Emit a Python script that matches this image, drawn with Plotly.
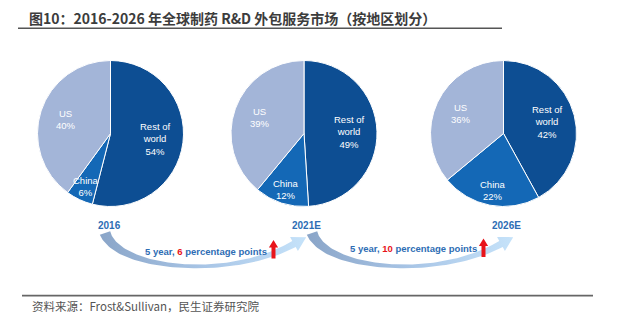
import math
import numpy as np
import plotly.graph_objects as go

W, H = 618, 325

# ---- data -------------------------------------------------------------
years = ["2016", "2021E", "2026E"]
regions = ["Rest of world", "China", "US"]
region_text = ["Rest of<br>world", "China", "US"]
share_2016 = [54, 6, 40]
share_2021 = [49, 12, 39]
share_2026 = [42, 22, 36]
shares = [share_2016, share_2021, share_2026]
span_years = [5, 5]
china_gain_points = [6, 10]

# ---- styling / layout constants ----------------------------------------
slice_colors = ["#0D4E93", "#1468B6", "#A3B5D8"]
label_radius = [0.62, 0.80, 0.64]          # radial position of in-slice labels
pie_centers = [(110.5, 133.5), (304.0, 133.5), (503.5, 133.5)]
pie_r = 73
year_label_x = [109.5, 306.5, 506.5]
arrow_offsets = [0, 207]                    # horizontal shift of each curved arrow
BLUE_TXT = "#2E6DB4"
RED = "#E8141B"
SANS = "Liberation Sans, Arial, sans-serif"
CJK = "Noto Sans CJK SC, sans-serif"

fig = go.Figure()

# ---- pies --------------------------------------------------------------
annotations = []
for (cx, cy), vals in zip(pie_centers, shares):
    fig.add_trace(go.Pie(
        values=vals, labels=regions, sort=False, direction="clockwise",
        rotation=0, textinfo="none", hoverinfo="skip", showlegend=False,
        marker=dict(colors=slice_colors, line=dict(color="white", width=1)),
        domain=dict(x=[(cx - pie_r) / W, (cx + pie_r) / W],
                    y=[(H - cy - pie_r) / H, (H - cy + pie_r) / H]),
    ))
    total = float(sum(vals))
    cum = 0.0
    for i, v in enumerate(vals):
        theta = (cum + v / 2.0) / total * 2 * math.pi
        cum += v
        rr = label_radius[i] * pie_r
        annotations.append(dict(
            x=cx + math.sin(theta) * rr, y=cy - math.cos(theta) * rr,
            xref="x", yref="y", showarrow=False,
            text=f"{region_text[i]}<br>{v}%",
            font=dict(family=SANS, size=9.5, color="white"),
            xanchor="center", yanchor="middle",
        ))

# ---- year labels -------------------------------------------------------
for yx, yr in zip(year_label_x, years):
    annotations.append(dict(
        x=yx, y=225, xref="x", yref="y", showarrow=False,
        text=f"<b>{yr}</b>", font=dict(family=SANS, size=10, color=BLUE_TXT),
        xanchor="center", yanchor="middle"))


# ---- curved arrows between the years -----------------------------------
def bezier(p, t):
    t = t[:, None]
    return ((1 - t) ** 3 * p[0] + 3 * (1 - t) ** 2 * t * p[1]
            + 3 * (1 - t) * t ** 2 * p[2] + t ** 3 * p[3])


def bezier_d(p, t):
    t = t[:, None]
    return (3 * (1 - t) ** 2 * (p[1] - p[0]) + 6 * (1 - t) * t * (p[2] - p[1])
            + 3 * t ** 2 * (p[3] - p[2]))


def curved_arrow(dx):
    p = np.array([[105, 233], [118, 270], [230, 280], [294, 244]], float)
    p[:, 0] += dx
    t = np.linspace(0, 1, 80)
    c = bezier(p, t)
    d = bezier_d(p, t)
    d /= np.linalg.norm(d, axis=1)[:, None]
    n = np.stack([-d[:, 1], d[:, 0]], axis=1)
    hw = 5.5 - 12 * t + 10 * t ** 2
    upper = c - n * hw[:, None]
    lower = c + n * hw[:, None]
    end, tang, nn = c[-1], d[-1], n[-1]
    head = [end - nn * 8, end + tang * 14, end + nn * 8]
    pts = np.vstack([upper, head, lower[::-1], upper[:1]])
    return pts, p[0, 0] - 5, end[0] + 14


for k, dx in enumerate(arrow_offsets):
    pts, xs, xe = curved_arrow(dx)
    fig.add_trace(go.Scatter(
        x=pts[:, 0], y=pts[:, 1], mode="lines", fill="toself",
        line=dict(width=0), hoverinfo="skip", showlegend=False,
        fillgradient=dict(type="horizontal", start=xs, stop=xe,
                          colorscale=[[0, "#8AA5C8"], [0.5, "#A8C5E6"],
                                      [1, "#C6E3FA"]]),
    ))

# ---- growth captions and red up arrows ---------------------------------
caption_pos = [(206, 251), (413, 248.5)]
red_arrow_pos = [(273.5, 240), (483.5, 238.5)]
shapes = []
for (tx, ty), yrs, pts_gain, (ax, ay) in zip(caption_pos, span_years,
                                             china_gain_points, red_arrow_pos):
    annotations.append(dict(
        x=tx, y=ty, xref="x", yref="y", showarrow=False,
        text=(f"<b>{yrs} year, <span style='color:{RED}'>{pts_gain}</span>"
              f" percentage points</b>"),
        font=dict(family=SANS, size=9.5, color=BLUE_TXT),
        xanchor="center", yanchor="middle"))
    path = (f"M {ax} {ay} L {ax + 4.6} {ay + 7.5} L {ax + 2} {ay + 7.5} "
            f"L {ax + 2} {ay + 18.5} L {ax - 2} {ay + 18.5} L {ax - 2} {ay + 7.5} "
            f"L {ax - 4.6} {ay + 7.5} Z")
    shapes.append(dict(type="path", path=path, xref="x", yref="y",
                       fillcolor=RED, line=dict(width=0)))

# ---- title, rules, source ----------------------------------------------
annotations.append(dict(
    x=27, y=18, xref="x", yref="y", showarrow=False,
    text="<b>图10：2016-2026 年全球制药 R&D 外包服务市场（按地区划分）</b>",
    font=dict(family=CJK, size=14, color="#3C3C3C"),
    xanchor="left", yanchor="middle"))
annotations.append(dict(
    x=30, y=306, xref="x", yref="y", showarrow=False,
    text="资料来源：Frost&Sullivan，民生证券研究院",
    font=dict(family=CJK, size=11.5, color="#555555"),
    xanchor="left", yanchor="middle"))
shapes.append(dict(type="line", x0=18, x1=502, y0=28.3, y1=28.3, xref="x",
                   yref="y", line=dict(color="#555555", width=1.6)))
shapes.append(dict(type="line", x0=22, x1=593, y0=295.6, y1=295.6, xref="x",
                   yref="y", line=dict(color="#666666", width=1.6)))

fig.update_layout(
    width=W, height=H, margin=dict(l=0, r=0, t=0, b=0),
    paper_bgcolor="white", plot_bgcolor="white",
    xaxis=dict(range=[0, W], visible=False, fixedrange=True, domain=[0, 1]),
    yaxis=dict(range=[H, 0], visible=False, fixedrange=True, domain=[0, 1]),
    annotations=annotations, shapes=shapes, showlegend=False,
)

fig.write_html("out.html")
